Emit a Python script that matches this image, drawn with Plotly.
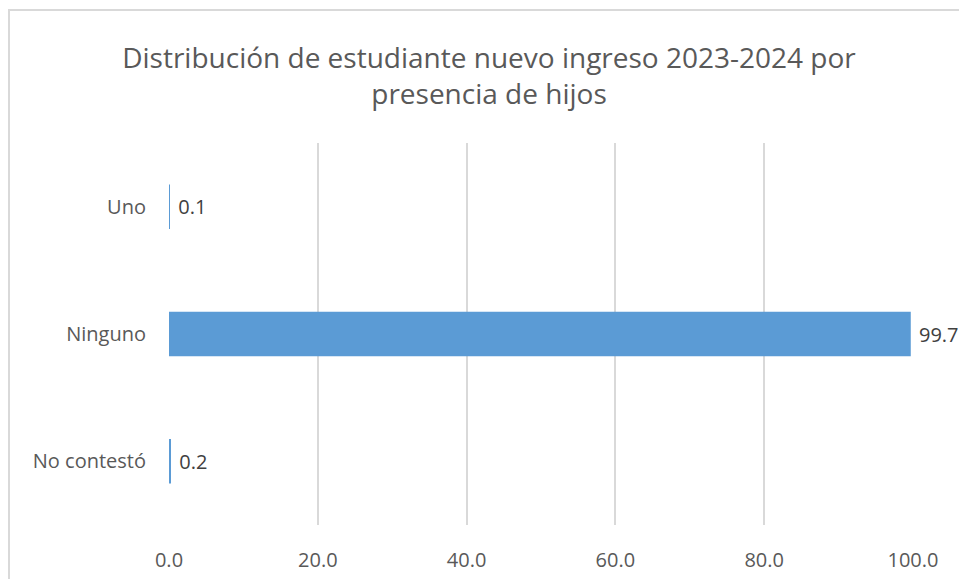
import plotly.graph_objects as go

categories = ["No contestó", "Ninguno", "Uno"]
values = [0.2, 99.7, 0.1]
x_ticks = [0, 20, 40, 60, 80, 100]
title_text = "Distribución de estudiante nuevo ingreso 2023-2024 por<br>presencia de hijos"

W, H = 959, 579
L, R, T, B = 169, 46, 143, 54
pw, ph = W - L - R, H - T - B
FONT = "Open Sans, sans-serif"

fig = go.Figure(go.Bar(
    x=values, y=categories, orientation="h",
    marker=dict(color="#5b9bd5", line=dict(color="#5b9bd5", width=0)),
    texttemplate="\u00a0%{x:.1f}", textposition="outside",
    textfont=dict(family=FONT, size=20, color="#404040"),
    cliponaxis=False, width=0.35,
))

fig.update_layout(
    width=W, height=H, margin=dict(l=L, r=R, t=T, b=B),
    paper_bgcolor="white", plot_bgcolor="white",
    showlegend=False,
    title=dict(text=title_text, x=489 / W, xanchor="center", y=1 - 68 / H, yanchor="top",
               font=dict(family=FONT, size=28, color="#595959")),
    xaxis=dict(range=[0, 100], tickvals=x_ticks, tickformat=".1f", showgrid=True,
               gridcolor="#d9d9d9", gridwidth=1.5, zeroline=False, showline=False,
               automargin=False,
               ticks="outside", ticklen=17, tickcolor="rgba(0,0,0,0)",
               tickfont=dict(family=FONT, size=20, color="#595959")),
    yaxis=dict(showgrid=False, zeroline=False, showline=False, ticks="",
               automargin=False, ticklabelstandoff=22,
               tickfont=dict(family=FONT, size=20, color="#595959")),
    shapes=[dict(type="rect", xref="paper", yref="paper",
                 x0=(9 - L) / pw, x1=(W + 20 - L) / pw,
                 y0=-(B + 20) / ph, y1=(H - B - 10) / ph,
                 line=dict(color="#d9d9d9", width=2), fillcolor="rgba(0,0,0,0)", layer="below")],
)

fig.write_html("out.html", config={"displayModeBar": False},
               post_script="document.body.style.margin='0';document.body.style.overflow='hidden';")
